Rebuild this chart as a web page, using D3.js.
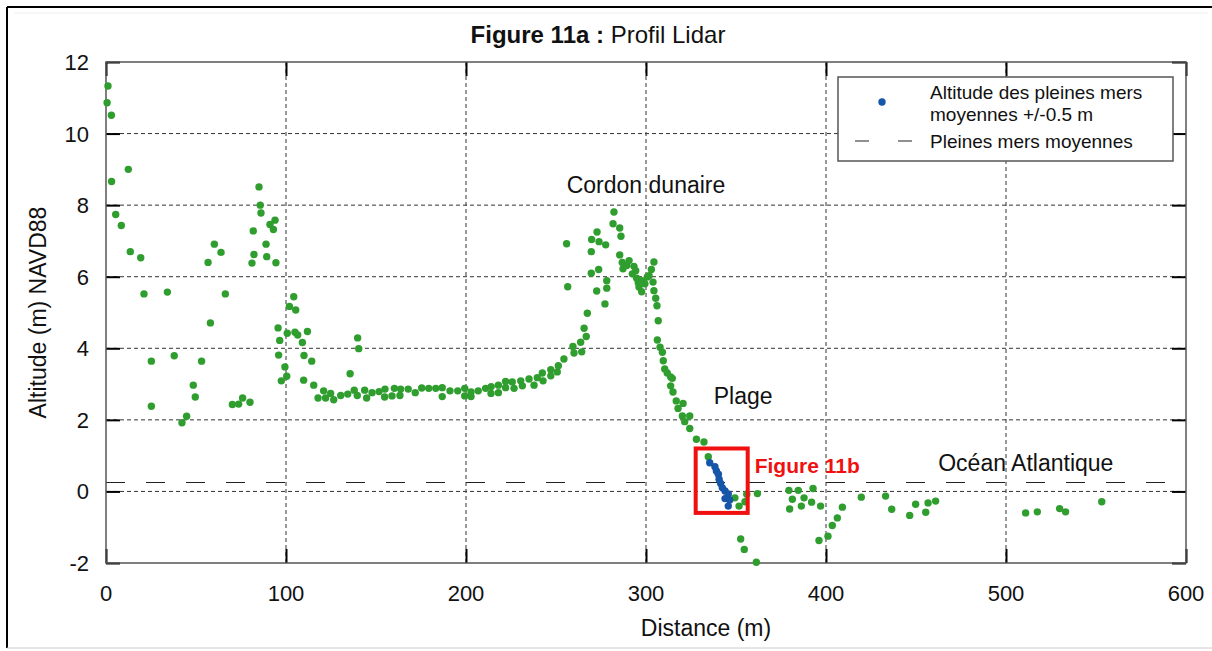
<!DOCTYPE html>
<html><head><meta charset="utf-8">
<script src="https://cdn.jsdelivr.net/npm/d3@7"></script>
<style>body{margin:0;background:#fff;}svg{display:block;font-family:"Liberation Sans",Arial,sans-serif;}</style>
</head><body>
<script>
// ---- data ----
const xTicks = [0,100,200,300,400,500,600];
const yTicks = [-2,0,2,4,6,8,10,12];
const meanHighWater = 0.25;
const box11b = [327.6, 356.5, 1.2, -0.6]; // x0,x1,yTop,yBottom (data units)

const greenDist = [0.6,1.1,3,3.1,5.4,8.5,12.4,13.5,19.3,21.1,25.2,25.2,34.1,37.9,42.2,44.8,48.5,49.6,53.1,56.7,58,60.2,63.9,66.3,70.2,73.7,75.9,80,81.1,81.8,82.2,85,85.7,86.1,88.9,89.3,91.1,93,93.9,94.4,95.6,95.9,96.5,97.4,99.4,100.4,100.7,101.9,104.3,105,105.4,106.5,109.1,109.8,110,111.9,114.3,115.4,
117.8,120.9,122,124.8,126.5,130.4,134.3,135.6,137.9,139.6,139.8,140.4,143.7,144.8,147.8,151.7,155,154.8,158.9,160.2,163.7,163.3,167.9,171.8,175.4,179.3,183.2,186.8,186.8,191.1,195.4,199.3,199.3,202.8,202.8,206.8,210.9,214,213.9,218,218,222,222,225.7,226.7,230.4,231.3,235,237.8,239.6,242.4,242.8,247.1,247.1,250.7,251.3,254.4,
255.9,256.5,259.4,260,263.7,264.3,265.6,266.8,267.4,269.6,269.6,269.8,272.6,272.8,273.7,273.9,277.2,277.6,278.2,278.2,281.7,282.2,285.4,286.1,285.4,286.8,287.2,289.3,290.6,292.4,293.3,294.3,294.8,295.7,296.1,297.6,297.6,299.4,300.7,301.7,303,303.9,304.4,304.4,305.4,306.1,306.8,306.3,307.8,309.1,309.6,310.4,311.8,313.7,314.6,313.7,315,316.8,317.8,320.6,320.2,324.3,321.5,324.3,328,332.2,334.6,
349.4,351.7,355,356,361.9,352.6,354.6,361.3,379.4,384.6,392.8,381.3,387.8,379.8,386.3,392,397,406.3,403.5,401.1,396.1,409.1,419.6,433.1,436.5,446.5,449.8,455.4,456.7,460.9,510.9,517.4,529.8,533.1,553.2];
const greenAlt = [10.86,11.33,10.51,8.66,7.74,7.43,9.0,6.70,6.53,5.52,3.64,2.38,5.57,3.79,1.92,2.10,2.97,2.64,3.64,6.40,4.71,6.91,6.68,5.52,2.43,2.44,2.61,2.49,6.38,7.28,6.62,8.51,8.0,7.78,6.91,6.56,7.46,7.32,7.58,6.39,4.57,3.81,4.22,3.09,3.48,3.22,4.42,5.17,5.44,4.45,5.07,4.37,4.16,3.11,3.80,4.47,3.64,2.97,
2.61,2.81,2.61,2.74,2.56,2.68,2.72,3.29,2.83,2.68,4.29,3.99,2.83,2.61,2.76,2.79,2.86,2.64,2.67,2.88,2.86,2.68,2.86,2.76,2.89,2.88,2.88,2.90,2.65,2.81,2.81,2.88,2.67,2.78,2.65,2.81,2.88,2.93,2.74,2.97,2.76,3.07,2.90,3.06,2.88,3.09,2.95,3.14,2.97,3.18,3.31,3.09,3.40,3.23,3.34,3.51,3.70,
6.92,5.72,4.05,3.87,4.17,3.90,4.56,4.33,4.98,6.70,6.10,7.04,5.60,7.25,6.20,6.98,5.24,6.89,5.89,5.68,7.48,7.81,7.36,7.13,6.61,6.40,6.22,6.31,6.45,6.08,6.29,6.17,5.96,5.83,5.71,5.89,5.58,5.80,5.99,6.03,6.20,5.85,6.41,5.61,5.40,5.19,4.77,4.23,4.03,3.89,3.65,3.42,3.31,3.20,3.16,2.95,2.78,2.53,2.32,2.46,2.11,2.11,1.95,1.76,1.46,1.38,0.97,
-0.18,-0.41,-0.29,-0.08,-0.06,-1.33,-1.62,-1.98,0.03,0.03,0.08,-0.22,-0.18,-0.49,-0.41,-0.30,-0.41,-0.74,-0.95,-1.25,-1.37,-0.44,-0.16,-0.13,-0.50,-0.67,-0.36,-0.58,-0.32,-0.27,-0.60,-0.57,-0.48,-0.57,-0.29];
const blueDist = [335.4,338.3,339.1,340.2,340.6,341.5,342.4,343.9,345.7,343.9,346.5,345.7];
const blueAlt = [0.80,0.69,0.57,0.48,0.34,0.22,0.10,0.01,-0.07,-0.20,-0.24,-0.41];
const legendLabels = ["Altitude des pleines mers", "moyennes +/-0.5 m", "Pleines mers moyennes"];
const annotations = [
  {text:"Cordon dunaire", x:300, y:8.35},
  {text:"Plage", x:354, y:2.44},
  {text:"Océan Atlantique", x:511, y:0.57}
];

// ---- drawing ----
const W = 1212, H = 651;
const L = 106, R = 1186, T = 62, B = 563;
const svg = d3.select("body").append("svg").attr("width", W).attr("height", H);

// outer frame
svg.append("line").attr("x1",7).attr("y1",7).attr("x2",W).attr("y2",7).attr("stroke","#000").attr("stroke-width",2);
svg.append("line").attr("x1",7).attr("y1",7).attr("x2",7).attr("y2",648).attr("stroke","#000").attr("stroke-width",2);
svg.append("line").attr("x1",7).attr("y1",648).attr("x2",W).attr("y2",648).attr("stroke","#ccc").attr("stroke-width",1);
svg.append("line").attr("x1",14).attr("y1",13).attr("x2",W-4).attr("y2",13).attr("stroke","#eee").attr("stroke-width",1);

const x = d3.scaleLinear().domain([0,600]).range([L,R]);
const y = d3.scaleLinear().domain([-2,12]).range([B,T]);

// grid
const g = svg.append("g");
g.selectAll(".gx").data(xTicks.filter(d=>d>0&&d<600)).enter().append("line")
  .attr("x1",d=>x(d)).attr("x2",d=>x(d)).attr("y1",T).attr("y2",B)
  .attr("stroke","#333").attr("stroke-width",1).attr("stroke-dasharray","4,3");
g.selectAll(".gy").data(yTicks.filter(d=>d>-2&&d<12)).enter().append("line")
  .attr("x1",L).attr("x2",R).attr("y1",d=>y(d)).attr("y2",d=>y(d))
  .attr("stroke","#333").attr("stroke-width",1).attr("stroke-dasharray","4,3");

// mean high water line
svg.append("line").attr("x1",L).attr("x2",R-16).attr("y1",y(meanHighWater)).attr("y2",y(meanHighWater))
  .attr("stroke","#222").attr("stroke-width",1.2).attr("stroke-dasharray","19,21");

// axes with inner ticks (all four sides)
const tickLen = 14;
const axB = svg.append("g").attr("transform",`translate(0,${B})`).call(d3.axisTop(x).tickValues(xTicks).tickSize(tickLen).tickFormat(""));
const axT = svg.append("g").attr("transform",`translate(0,${T})`).call(d3.axisBottom(x).tickValues(xTicks).tickSize(tickLen).tickFormat(""));
const axL = svg.append("g").attr("transform",`translate(${L},0)`).call(d3.axisRight(y).tickValues(yTicks).tickSize(tickLen).tickFormat(""));
const axR = svg.append("g").attr("transform",`translate(${R},0)`).call(d3.axisLeft(y).tickValues(yTicks).tickSize(tickLen).tickFormat(""));
[axB,axT,axL,axR].forEach(a=>{a.select(".domain").remove(); a.selectAll("line").attr("stroke","#000").attr("stroke-width",2);});

// plot frame
svg.append("rect").attr("x",L).attr("y",T).attr("width",R-L).attr("height",B-T)
  .attr("fill","none").attr("stroke","#555").attr("stroke-width",1.5);

// tick labels
svg.selectAll(".xl").data(xTicks).enter().append("text")
  .attr("x",d=>x(d)).attr("y",601).attr("text-anchor","middle")
  .attr("font-size",22).attr("fill","#111").text(d=>d);
svg.selectAll(".yl").data(yTicks).enter().append("text")
  .attr("x",89).attr("y",d=>y(d)+8).attr("text-anchor","end")
  .attr("font-size",22).attr("fill","#111").text(d=>d);

// axis titles
svg.append("text").attr("x",706).attr("y",636).attr("text-anchor","middle").attr("font-size",23).attr("fill","#111").text("Distance (m)");
svg.append("text").attr("transform",`translate(46,${(T+B)/2}) rotate(-90)`).attr("text-anchor","middle").attr("font-size",23).attr("fill","#111").text("Altitude (m) NAVD88");

// title
const title = svg.append("text").attr("x",598).attr("y",43).attr("text-anchor","middle").attr("font-size",24).attr("fill","#111");
title.append("tspan").attr("font-weight","bold").text("Figure 11a :");
title.append("tspan").text(" Profil Lidar");

// points
svg.append("g").selectAll("circle").data(d3.range(greenDist.length)).enter().append("circle")
  .attr("cx",i=>x(greenDist[i])).attr("cy",i=>y(greenAlt[i])).attr("r",3.7).attr("fill","#2f9e2f");
svg.append("g").selectAll("circle").data(d3.range(blueDist.length)).enter().append("circle")
  .attr("cx",i=>x(blueDist[i])).attr("cy",i=>y(blueAlt[i])).attr("r",3.7).attr("fill","#1556a8");

// annotations
svg.selectAll(".ann").data(annotations).enter().append("text")
  .attr("x",d=>x(d.x)).attr("y",d=>y(d.y)).attr("text-anchor","middle")
  .attr("font-size",23).attr("fill","#111").text(d=>d.text);

// Figure 11b box
svg.append("rect").attr("x",x(box11b[0])).attr("y",y(box11b[2]))
  .attr("width",x(box11b[1])-x(box11b[0])).attr("height",y(box11b[3])-y(box11b[2]))
  .attr("fill","none").attr("stroke","#f01010").attr("stroke-width",4);
svg.append("text").attr("x",x(box11b[1])+7).attr("y",y(box11b[2])+25)
  .attr("font-size",21).attr("font-weight","bold").attr("fill","#f01010").text("Figure 11b");

// legend
const lg = svg.append("g");
lg.append("rect").attr("x",838).attr("y",77).attr("width",335).attr("height",84)
  .attr("fill","#fff").attr("stroke","#555").attr("stroke-width",1.5);
lg.append("circle").attr("cx",882).attr("cy",102).attr("r",3.7).attr("fill","#1556a8");
lg.append("line").attr("x1",855).attr("x2",912).attr("y1",141).attr("y2",141)
  .attr("stroke","#222").attr("stroke-width",1.2).attr("stroke-dasharray","14,29");
lg.selectAll("text").data(legendLabels).enter().append("text")
  .attr("x",930).attr("y",(d,i)=>[99,121,148][i]).attr("font-size",19).attr("fill","#111").text(d=>d);
</script>
</body></html>
